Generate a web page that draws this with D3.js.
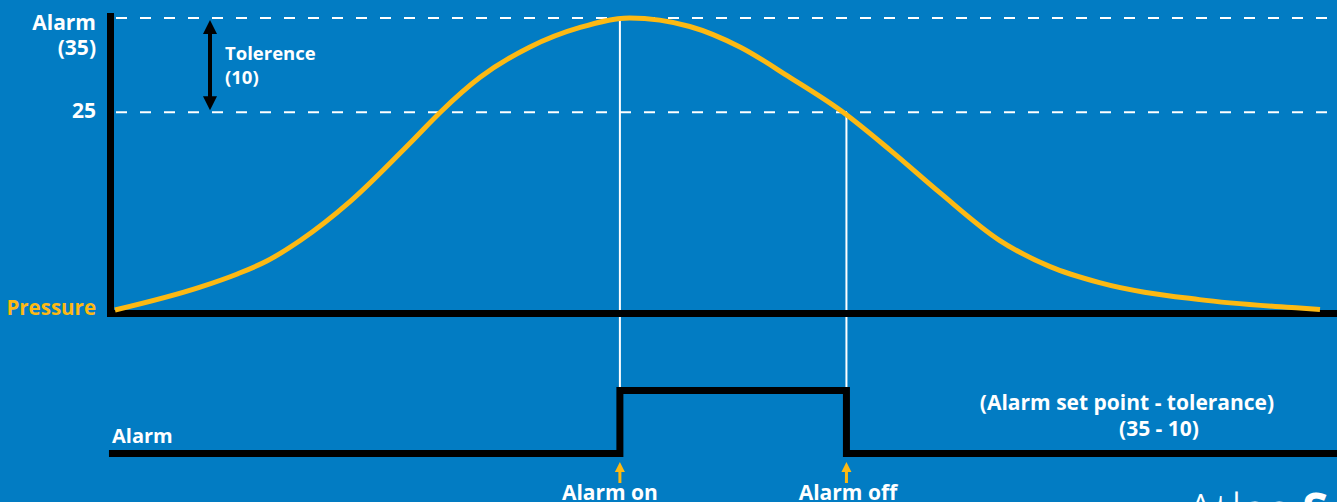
<!DOCTYPE html>
<meta charset="utf-8">
<style>
  body { margin: 0; background: #027cc3; overflow: hidden; }
  svg { display: block; font-family: "Open Sans", sans-serif; font-weight: 700; }
</style>
<svg width="1337" height="502"></svg>
<script src="https://d3js.org/d3.v7.min.js"></script>
<script>

  // pressure curve (time in %, pressure units)
  var timeSteps = [0, 7, 10.1, 12.6, 15.4, 19.5, 24.7, 27, 30.3, 34.4, 38.6, 42.7, 47.7, 51.9, 56, 60.2, 64.3, 68.5, 73.4, 77.6, 81.7, 90, 98.3, 100];
  var pressure = [4, 6.4, 7.8, 9.2, 11.4, 15.5, 22, 25, 28.7, 31.9, 34, 35, 34.1, 31.9, 28.7, 25.2, 21, 16.4, 11.4, 8.6, 6.9, 5.1, 4.2, 4.05];

  // alarm output (0 = off, 1 = on)
  var alarmTimes = [-0.5, 41.9, 60.7, 101.5];
  var alarmState = [0, 1, 0, 0];

  var alarmSetPoint = 35,
    tolerance = 10,
    resetPoint = alarmSetPoint - tolerance;

  var yTickValues = [alarmSetPoint, resetPoint];
  var yTickLabels = [["Alarm", "(" + alarmSetPoint + ")"], [String(resetPoint)]];

  var svg = d3.select("svg"),
    width = +svg.attr("width"),
    height = +svg.attr("height");

  var yellow = "#fdb913";

  var x = d3.scaleLinear().domain([0, 100]).range([115, 1320]);
  var y = d3.scaleLinear().domain([4, 35]).range([310, 18]);
  var yAlarm = d3.scaleLinear().domain([0, 1]).range([453.5, 390.5]);

  var axisY = y(4) + 3.5;

  // dashed guide lines
  svg.selectAll(".guide")
    .data(yTickValues)
    .enter().append("line")
    .attr("x1", 116).attr("x2", width)
    .attr("y1", function (d) { return y(d); })
    .attr("y2", function (d) { return y(d); })
    .attr("stroke", "#fff")
    .attr("stroke-width", 2)
    .attr("stroke-dasharray", "11,13");

  // vertical white markers
  svg.append("line")
    .attr("x1", x(alarmTimes[1])).attr("x2", x(alarmTimes[1]))
    .attr("y1", y(alarmSetPoint)).attr("y2", yAlarm(1) - 3)
    .attr("stroke", "#fff").attr("stroke-width", 2);
  svg.append("line")
    .attr("x1", x(alarmTimes[2])).attr("x2", x(alarmTimes[2]))
    .attr("y1", y(resetPoint)).attr("y2", yAlarm(1) - 3)
    .attr("stroke", "#fff").attr("stroke-width", 2);

  // axes
  svg.append("line")
    .attr("x1", 110.5).attr("x2", 110.5)
    .attr("y1", 13).attr("y2", axisY + 3.5)
    .attr("stroke", "#000").attr("stroke-width", 7);
  svg.append("line")
    .attr("x1", 107).attr("x2", width)
    .attr("y1", axisY).attr("y2", axisY)
    .attr("stroke", "#000").attr("stroke-width", 7);

  // pressure curve
  var line = d3.line()
    .x(function (d, i) { return x(timeSteps[i]); })
    .y(function (d) { return y(d); })
    .curve(d3.curveMonotoneX);

  svg.append("path")
    .datum(pressure)
    .attr("fill", "none")
    .attr("stroke", yellow)
    .attr("stroke-width", 5)
    .attr("d", line);

  // alarm signal
  var step = d3.line()
    .x(function (d, i) { return x(alarmTimes[i]); })
    .y(function (d) { return yAlarm(d); })
    .curve(d3.curveStepAfter);

  svg.append("path")
    .datum(alarmState)
    .attr("fill", "none")
    .attr("stroke", "#000")
    .attr("stroke-width", 7)
    .attr("d", step);

  // tolerance arrow
  var tx = 210, ty1 = y(alarmSetPoint) + 2, ty2 = y(resetPoint) - 2;
  svg.append("line")
    .attr("x1", tx).attr("x2", tx)
    .attr("y1", ty1 + 10).attr("y2", ty2 - 10)
    .attr("stroke", "#000").attr("stroke-width", 4);
  svg.append("path")
    .attr("d", "M" + tx + "," + ty1 + "l-7,14h14z")
    .attr("fill", "#000");
  svg.append("path")
    .attr("d", "M" + tx + "," + ty2 + "l-7,-14h14z")
    .attr("fill", "#000");

  svg.append("text")
    .attr("x", 225).attr("y", 60)
    .attr("fill", "#fff").attr("font-size", 18.5)
    .text("Tolerence");
  svg.append("text")
    .attr("x", 225).attr("y", 84)
    .attr("fill", "#fff").attr("font-size", 18.5)
    .text("(" + tolerance + ")");

  // y labels
  yTickValues.forEach(function (v, k) {
    var lines = yTickLabels[k];
    lines.forEach(function (t, j) {
      svg.append("text")
        .attr("x", 96)
        .attr("y", y(v) + (lines.length > 1 ? 12 + j * 25 : 6))
        .attr("text-anchor", "end")
        .attr("fill", "#fff")
        .attr("font-size", 21)
        .text(t);
    });
  });

  svg.append("text")
    .attr("x", 96).attr("y", 315)
    .attr("text-anchor", "end")
    .attr("fill", yellow)
    .attr("font-size", 20.5)
    .text("Pressure");

  svg.append("text")
    .attr("x", 112).attr("y", 443)
    .attr("fill", "#fff")
    .attr("font-size", 20)
    .text("Alarm");

  // alarm on/off arrows and labels
  var events = [{t: alarmTimes[1], label: "Alarm on", dx: -10}, {t: alarmTimes[2], label: "Alarm off", dx: 1.5}];
  events.forEach(function (e) {
    var ex = x(e.t);
    svg.append("line")
      .attr("x1", ex).attr("x2", ex)
      .attr("y1", 470).attr("y2", 483)
      .attr("stroke", yellow).attr("stroke-width", 3);
    svg.append("path")
      .attr("d", "M" + ex + ",462l-5,10h10z")
      .attr("fill", yellow);
    svg.append("text")
      .attr("x", ex + e.dx).attr("y", 500)
      .attr("text-anchor", "middle")
      .attr("fill", "#fff")
      .attr("font-size", 21)
      .text(e.label);
  });

  svg.append("text")
    .attr("x", 1127).attr("y", 410)
    .attr("text-anchor", "middle")
    .attr("fill", "#fff").attr("font-size", 21)
    .text("(Alarm set point - tolerance)");
  svg.append("text")
    .attr("x", 1159).attr("y", 436)
    .attr("text-anchor", "middle")
    .attr("fill", "#fff").attr("font-size", 21)
    .text("(" + alarmSetPoint + " - " + tolerance + ")");

  // partially visible logo in the corner
  var logo = svg.append("text")
    .attr("x", 1186).attr("y", 528)
    .attr("fill", "#fff").attr("font-size", 48);
  logo.append("tspan").attr("font-weight", 300).text("Atlas ");
  logo.append("tspan").attr("font-weight", 700).text("Scientific");

</script>
